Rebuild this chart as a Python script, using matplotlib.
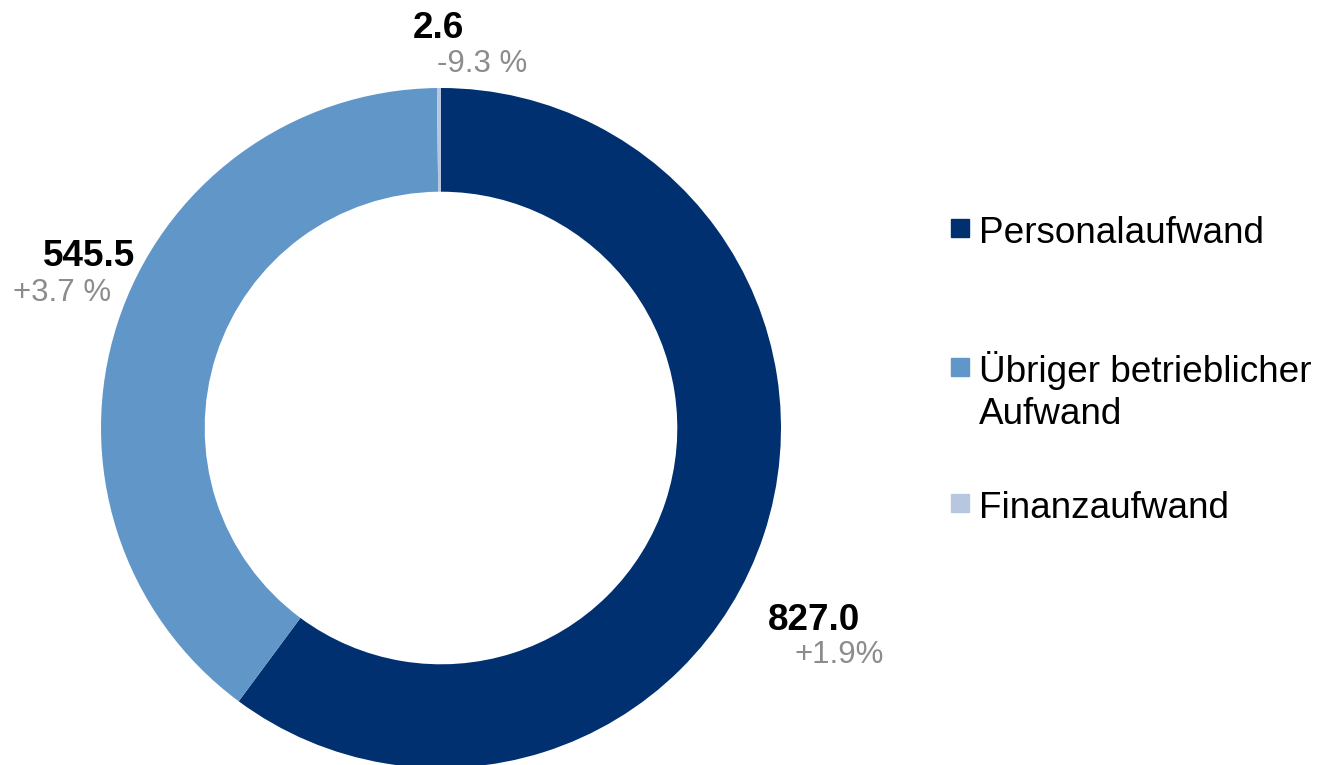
import matplotlib.pyplot as plt
from matplotlib.patches import Rectangle

plt.rcParams['font.family'] = ['Liberation Sans', 'DejaVu Sans']

categories = ["Personalaufwand", "Übriger betrieblicher\nAufwand", "Finanzaufwand"]
values = [827.0, 545.5, 2.6]
changes = ["+1.9%", "+3.7 %", "-9.3 %"]
COLORS = ["#003070", "#6196C9", "#B8C7E0"]

W, H = 1321, 765
fig = plt.figure(figsize=(W / 100, H / 100), dpi=100)

# donut: centre (441, 428) px, radius 340 px
cx, cy, r = 441, 428, 340
ax = fig.add_axes([(cx - r) / W, (H - cy - r) / H, 2 * r / W, 2 * r / H])
ax.pie(values, colors=COLORS, startangle=90, counterclock=False, radius=1,
       wedgeprops=dict(width=0.305, edgecolor="none", linewidth=0))
ax.set_xlim(-1, 1); ax.set_ylim(-1, 1)
ax.set_aspect("auto")
ax.axis("off")

def ptext(x, y, s, **kw):
    fig.text(x / W, 1 - y / H, s, va="baseline", ha="left", **kw)

# value labels (x, y of baseline in px): order matches values
label_pos = [((768, 630), (795, 663)), ((43, 266), (13, 301)), ((413, 38), (437, 72))]
for v, ch, (p1, p2) in zip(values, changes, label_pos):
    ptext(*p1, f"{v:.1f}", fontsize=26.6, fontweight="bold", color="black")
    ptext(*p2, ch, fontsize=22.5, color="#8C8C8C")

# legend
leg_y = [243, 382, 518]
for name, col, y in zip(categories, COLORS, leg_y):
    fig.patches.append(Rectangle((951 / W, 1 - (y - 6) / H), 18 / W, 18 / H,
                                 transform=fig.transFigure, color=col))
    for i, line in enumerate(name.split("\n")):
        ptext(979, y + 42 * i, line, fontsize=26.6, color="black")

fig.savefig("out.png", dpi=100)
